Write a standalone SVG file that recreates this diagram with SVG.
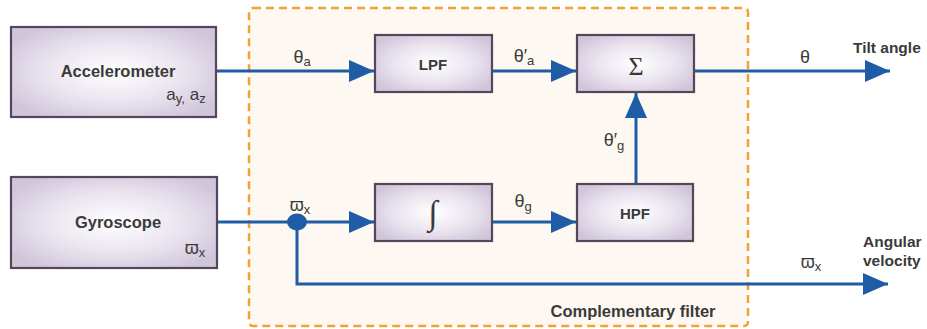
<svg xmlns="http://www.w3.org/2000/svg" width="927" height="329" viewBox="0 0 927 329">
  <defs>
    <radialGradient id="boxFill" cx="50%" cy="50%" r="60%">
      <stop offset="0" stop-color="#ffffff"/>
      <stop offset="0.55" stop-color="#eae4ef"/>
      <stop offset="1" stop-color="#d0c6da"/>
    </radialGradient>
    <marker id="arrow" markerUnits="userSpaceOnUse" markerWidth="26" markerHeight="24" refX="25" refY="11" orient="auto" viewBox="0 0 26 22">
      <path d="M0,0 L25,11 L0,22 z" fill="#1f5ca6"/>
    </marker>
    <style>
      .box { fill: url(#boxFill); stroke: #55465c; stroke-width: 2.2; }
      .lbl { font-family: "Liberation Sans", Arial, sans-serif; font-weight: bold; fill: #3a3a3a; }
      .sym { font-family: "Liberation Sans", Arial, sans-serif; fill: #3a3a3a; }
      .serif { font-family: "Liberation Serif", "Times New Roman", serif; fill: #3a3a3a; }
      .wire { fill: none; stroke: #1f5ca6; stroke-width: 3; }
    </style>
  </defs>

  <!-- complementary filter region -->
  <g id="filter">
    <rect x="249" y="8" width="499" height="318" rx="4" fill="#fdf8f1" stroke="#efa235" stroke-width="2.5" stroke-dasharray="8,5"/>
    <text class="lbl" x="633" y="317" font-size="16.5" text-anchor="middle">Complementary filter</text>
  </g>

  <!-- connectors -->
  <g id="connectors">
    <path class="wire" d="M216,71 H374" marker-end="url(#arrow)"/>
    <path class="wire" d="M492,71 H576" marker-end="url(#arrow)"/>
    <path class="wire" d="M694,71 H890" marker-end="url(#arrow)"/>
    <path class="wire" d="M636,184 V93" marker-end="url(#arrow)"/>
    <path class="wire" d="M217,222 H374" marker-end="url(#arrow)"/>
    <path class="wire" d="M492,222 H576" marker-end="url(#arrow)"/>
    <path class="wire" d="M297,222 V284 H888" marker-end="url(#arrow)"/>
    <ellipse cx="297" cy="222" rx="10" ry="8.5" fill="#1f5ca6"/>

    <!-- signal labels -->
    <text class="sym" x="302" y="63" font-size="18" text-anchor="middle">θ<tspan font-size="13" dy="3">a</tspan></text>
    <text class="sym" x="524" y="62" font-size="18" text-anchor="middle">θ′<tspan font-size="13" dy="3">a</tspan></text>
    <text class="sym" x="805" y="63" font-size="18" text-anchor="middle">θ</text>
    <text class="sym" x="614" y="146" font-size="18" text-anchor="middle">θ′<tspan font-size="13" dy="4">g</tspan></text>
    <text class="sym" x="523" y="207" font-size="18" text-anchor="middle">θ<tspan font-size="13" dy="4">g</tspan></text>
    <text class="sym" x="300" y="211" font-size="18" text-anchor="middle">ϖ<tspan font-size="13" dy="3">x</tspan></text>
    <text class="sym" x="811" y="268" font-size="18" text-anchor="middle">ϖ<tspan font-size="13" dy="3">x</tspan></text>

    <text class="lbl" x="853" y="53" font-size="15.5">Tilt angle</text>
    <text class="lbl" x="863" y="247" font-size="15.5">Angular</text>
    <text class="lbl" x="863" y="266" font-size="15.5">velocity</text>
  </g>

  <!-- sensors -->
  <g id="accelerometer">
    <rect class="box" x="11" y="27" width="205" height="90"/>
    <text class="lbl" x="118" y="77" font-size="16.5" text-anchor="middle">Accelerometer</text>
    <text class="sym" x="186" y="100" font-size="17" text-anchor="middle">a<tspan font-size="13" dy="3">y,</tspan><tspan dy="-3"> a</tspan><tspan font-size="13" dy="3">z</tspan></text>
  </g>

  <g id="gyroscope">
    <rect class="box" x="11" y="177" width="206" height="91"/>
    <text class="lbl" x="118" y="228" font-size="16.5" text-anchor="middle">Gyroscope</text>
    <text class="sym" x="195" y="254" font-size="18" text-anchor="middle">ϖ<tspan font-size="13" dy="3">x</tspan></text>
  </g>

  <!-- filter blocks -->
  <g id="lpf">
    <rect class="box" x="375" y="35" width="117" height="57"/>
    <text class="lbl" x="433" y="70" font-size="15" text-anchor="middle">LPF</text>
  </g>

  <g id="sum">
    <rect class="box" x="577" y="35" width="117" height="57"/>
    <text class="serif" x="636" y="75" font-size="26" text-anchor="middle">Σ</text>
  </g>

  <g id="integrator">
    <rect class="box" x="375" y="184" width="117" height="57"/>
    <text class="serif" x="433" y="224" font-size="34" text-anchor="middle">∫</text>
  </g>

  <g id="hpf">
    <rect class="box" x="577" y="184" width="116" height="57"/>
    <text class="lbl" x="635" y="219" font-size="15" text-anchor="middle">HPF</text>
  </g>
</svg>
